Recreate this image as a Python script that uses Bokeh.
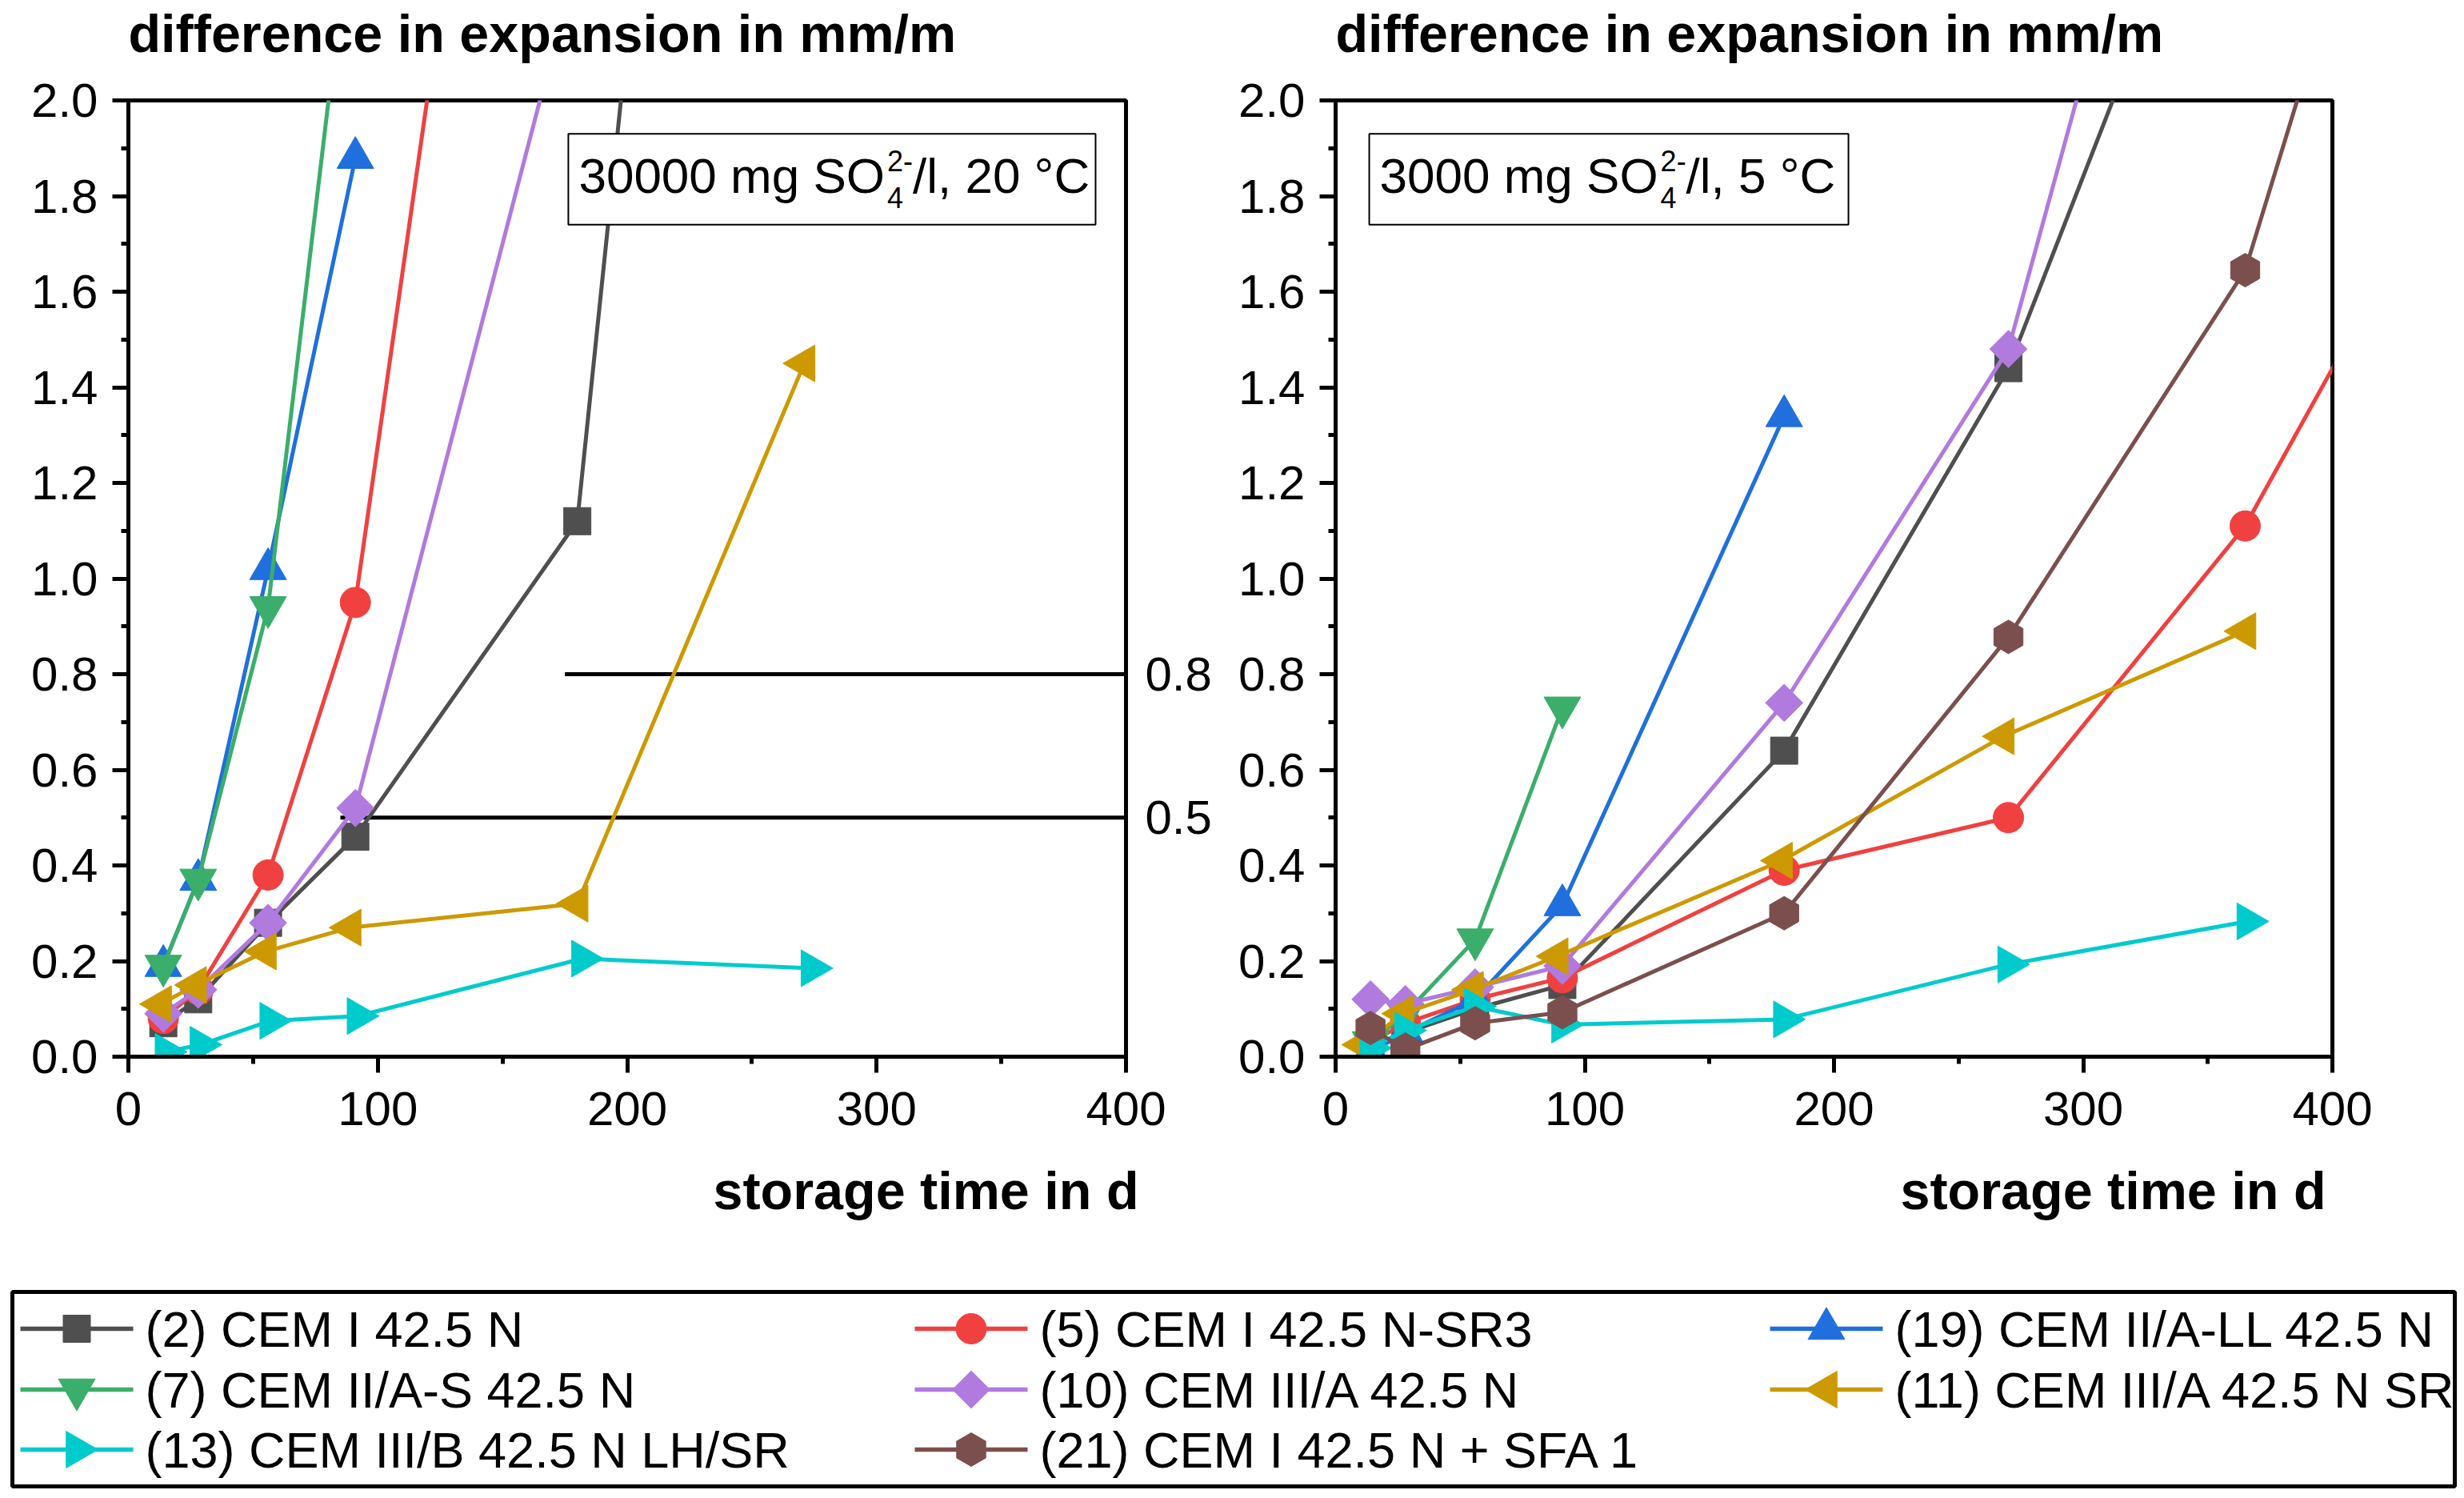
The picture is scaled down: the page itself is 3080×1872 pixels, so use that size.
import numpy as np
from bokeh.plotting import figure
from bokeh.models import (Range1d, SingleIntervalTicker, PrintfTickFormatter, LinearAxis,
                          FixedTicker, BoxAnnotation, Label, ColumnDataSource)
from bokeh.layouts import column, row
from bokeh.embed import file_html
from bokeh.resources import INLINE
from bokeh.core.properties import value

FONT = "Liberation Sans"

# ---------------- series meta ----------------
labels = ["(2) CEM I 42.5 N", "(5) CEM I 42.5 N-SR3", "(19) CEM II/A-LL 42.5 N",
          "(7) CEM II/A-S 42.5 N", "(10) CEM III/A 42.5 N", "(11) CEM III/A 42.5 N SR",
          "(13) CEM III/B 42.5 N LH/SR", "(21) CEM I 42.5 N + SFA 1"]
colors = ["#4f4f4f", "#f04040", "#1f6fde", "#3aae6a", "#b07ade", "#cc9a00", "#00cbcc", "#7b4f4d"]
markers = ["square", "circle", "triangle", "inverted_triangle", "square", "triangle", "triangle", "hex"]
angles = [0, 0, 0, 0, np.pi / 4, np.pi / 2, -np.pi / 2, np.pi / 2]
sizes = [34, 38, 46, 46, 33, 46, 46, 42]

# ---------------- left panel: 30000 mg SO4/l, 20 °C ----------------
L2_days = [14, 28, 56, 91, 180, 270]
L2_exp = [0.07, 0.12, 0.28, 0.46, 1.12, 5.65]
L5_days = [14, 28, 56, 91, 180]
L5_exp = [0.08, 0.14, 0.38, 0.95, 4.2]
L19_days = [14, 28, 56, 91]
L19_exp = [0.19, 0.37, 1.02, 1.88]
L7_days = [14, 28, 56, 91]
L7_exp = [0.19, 0.37, 0.94, 2.47]
L10_days = [14, 28, 56, 91, 180]
L10_exp = [0.09, 0.14, 0.28, 0.52, 2.30]
L11_days = [13, 27, 55, 89, 180, 271]
L11_exp = [0.11, 0.15, 0.22, 0.27, 0.32, 1.45]
L13_days = [15, 29, 57, 92, 182, 274]
L13_exp = [0.01, 0.025, 0.075, 0.085, 0.205, 0.185]
L21_days = []
L21_exp = []

# ---------------- right panel: 3000 mg SO4/l, 5 °C ----------------
R2_days = [14, 28, 56, 91, 180, 270, 365]
R2_exp = [0.02, 0.05, 0.10, 0.15, 0.64, 1.44, 2.71]
R5_days = [14, 28, 56, 91, 180, 270, 365, 450]
R5_exp = [0.03, 0.07, 0.12, 0.165, 0.39, 0.50, 1.11, 1.91]
R19_days = [14, 28, 56, 91, 180]
R19_exp = [0.01, 0.05, 0.12, 0.317, 1.34]
R7_days = [14, 28, 56, 91]
R7_exp = [0.03, 0.09, 0.245, 0.73]
R10_days = [14, 28, 56, 91, 180, 270, 365]
R10_exp = [0.12, 0.11, 0.145, 0.19, 0.74, 1.48, 3.29]
R11_days = [11, 27, 55, 89, 179, 268, 365]
R11_exp = [0.025, 0.09, 0.14, 0.21, 0.41, 0.67, 0.89]
R13_days = [14, 28, 56, 91, 180, 270, 366]
R13_exp = [0.018, 0.055, 0.105, 0.067, 0.078, 0.193, 0.283]
R21_days = [14, 28, 56, 91, 180, 270, 365, 450]
R21_exp = [0.06, 0.015, 0.07, 0.093, 0.30, 0.878, 1.645, 3.09]

left_series = [(L2_days, L2_exp), (L5_days, L5_exp), (L19_days, L19_exp), (L7_days, L7_exp),
               (L10_days, L10_exp), (L11_days, L11_exp), (L13_days, L13_exp), (L21_days, L21_exp)]
right_series = [(R2_days, R2_exp), (R5_days, R5_exp), (R19_days, R19_exp), (R7_days, R7_exp),
                (R10_days, R10_exp), (R11_days, R11_exp), (R13_days, R13_exp), (R21_days, R21_exp)]

# reference levels (left panel)
ref_levels = [0.8, 0.5]
ref_start = [175, 85]

x_min, x_max = 0, 400
y_min, y_max = 0, 2.0

title_text = "difference in expansion in mm/m"
xlabel_text = "storage time in d"

ANN_SIZE = 62
SUP_SIZE = 36
PAGE_W = 3080
BL, BR = 15, 12          # common left/right borders of full-width rows


def text_w(s, size):
    w = {'0': .556, '1': .556, '2': .556, '3': .556, '4': .556, '5': .556, '6': .556, '7': .556,
         '8': .556, '9': .556, ' ': .278, 'm': .833, 'g': .556, 'S': .667, 'O': .778, '-': .333,
         '/': .278, 'l': .222, ',': .278, '°': .4, 'C': .722}
    return sum(w.get(c, .556) for c in s) * size


def blank_fig(h):
    f = figure(width=PAGE_W, height=h, output_backend="svg", toolbar_location=None,
               x_range=Range1d(BL, PAGE_W - BR), y_range=Range1d(0, h), x_axis_type=None,
               y_axis_type=None, min_border_left=BL, min_border_right=BR,
               min_border_top=0, min_border_bottom=0)
    f.grid.visible = False
    f.outline_line_color = None
    f.background_fill_color = "white"
    f.border_fill_color = "white"
    return f


def make_panel(series, width, height, mbl, mbr, box, main_txt, rest_txt, with_refs):
    p = figure(width=width, height=height, output_backend="svg", toolbar_location=None,
               x_range=Range1d(x_min, x_max), y_range=Range1d(y_min, y_max),
               min_border_left=mbl, min_border_right=mbr, min_border_top=43,
               min_border_bottom=100)
    p.background_fill_color = "white"
    p.border_fill_color = "white"
    p.outline_line_color = "black"
    p.outline_line_width = 5
    p.grid.visible = False

    for ax in (p.xaxis[0], p.yaxis[0]):
        ax.axis_line_width = 5
        ax.axis_line_color = "black"
        ax.major_tick_line_width = 5
        ax.minor_tick_line_width = 5
        ax.major_tick_in = 0
        ax.minor_tick_in = 0
        ax.major_tick_out = 20
        ax.minor_tick_out = 9
        ax.major_label_text_font = FONT
        ax.major_label_text_font_size = "60px"
        ax.major_label_text_color = "black"
    p.xaxis[0].ticker = SingleIntervalTicker(interval=100, num_minor_ticks=2)
    p.yaxis[0].ticker = SingleIntervalTicker(interval=0.2, num_minor_ticks=2)
    p.yaxis[0].formatter = PrintfTickFormatter(format="%.1f")
    p.xaxis[0].major_label_standoff = 24
    p.yaxis[0].major_label_standoff = 18

    if with_refs:
        p.segment(x0=ref_start, y0=ref_levels, x1=[x_max] * len(ref_levels), y1=ref_levels,
                  line_color="black", line_width=5)
        rax = LinearAxis(ticker=FixedTicker(ticks=ref_levels),
                         formatter=PrintfTickFormatter(format="%.1f"))
        rax.axis_line_color = None
        rax.major_tick_line_color = None
        rax.minor_tick_line_color = None
        rax.major_tick_out = 0
        rax.major_tick_in = 0
        rax.major_label_standoff = 24
        rax.major_label_text_font = FONT
        rax.major_label_text_font_size = "60px"
        rax.major_label_text_color = "black"
        p.add_layout(rax, "right")

    for i, (d, e) in enumerate(series):
        if len(d) == 0:
            continue
        src = ColumnDataSource(dict(x=d, y=e))
        p.line("x", "y", source=src, line_color=colors[i], line_width=5, line_join="round")
        p.scatter("x", "y", source=src, marker=markers[i], size=sizes[i], angle=angles[i],
                  fill_color=colors[i], line_color=colors[i], line_width=1)

    bl, br, bb, bt, ty = box
    p.add_layout(BoxAnnotation(left=bl, right=br, bottom=bb, top=bt, fill_color="white",
                               fill_alpha=1, line_color="black", line_width=2, line_alpha=1))
    off = 13
    w_main = text_w(main_txt, ANN_SIZE)
    common = dict(x=bl, y=ty, text_font=FONT, text_color="black", text_baseline="middle")
    p.add_layout(Label(text=main_txt, x_offset=off, text_font_size=f"{ANN_SIZE}px", **common))
    p.add_layout(Label(text="2-", x_offset=off + w_main + 3, y_offset=19,
                       text_font_size=f"{SUP_SIZE}px", **common))
    p.add_layout(Label(text="4", x_offset=off + w_main + 3, y_offset=-27,
                       text_font_size=f"{SUP_SIZE}px", **common))
    p.add_layout(Label(text=rest_txt, x_offset=off + w_main + 3 + text_w("2-", SUP_SIZE),
                       text_font_size=f"{ANN_SIZE}px", **common))
    return p


# ---------------- heading row ----------------
TH = 82
tf = blank_fig(TH)
tf.text(x=[160, 1669], y=[TH - 41, TH - 41], text=[title_text, title_text],
        text_font=value(FONT), text_font_style="bold", text_font_size="66.5px",
        text_color="black", text_baseline="middle", text_align="left")

# ---------------- panels ----------------
p1 = make_panel(left_series, 1540, 1338, 160, 133, (176.4, 387.8, 1.74, 1.93, 1.842),
                "30000 mg SO", "/l, 20 °C", True)
p2 = make_panel(right_series, 1540, 1338, 129, 165, (13.5, 205.8, 1.74, 1.93, 1.842),
                "3000 mg SO", "/l, 5 °C", False)

# ---------------- x-axis labels row ----------------
XH = 140
xf = blank_fig(XH)
xf.text(x=[1423, 2907], y=[XH - 67, XH - 67], text=[xlabel_text, xlabel_text],
        text_font=value(FONT), text_font_style="bold", text_font_size="66.5px",
        text_color="black", text_baseline="middle", text_align="right")

# ---------------- legend panel ----------------
LW, LH = PAGE_W - BL - BR, 243
pl = figure(width=PAGE_W, height=312, output_backend="svg", toolbar_location=None,
            x_range=Range1d(0, LW), y_range=Range1d(0, LH), x_axis_type=None, y_axis_type=None,
            min_border_left=BL, min_border_right=BR, min_border_top=54, min_border_bottom=15)
pl.grid.visible = False
pl.outline_line_color = "black"
pl.outline_line_width = 5
pl.background_fill_color = "white"
pl.border_fill_color = "white"

col_x = [10, 1128, 2197]
row_y = [LH - 46, LH - 122, LH - 197]
glyph_w = 141
for i, lab in enumerate(labels):
    cx = col_x[i % 3]
    cy = row_y[i // 3]
    pl.line([cx, cx + glyph_w], [cy, cy], line_color=colors[i], line_width=5.5)
    pl.scatter([cx + glyph_w / 2], [cy], marker=markers[i], size=sizes[i], angle=angles[i],
               fill_color=colors[i], line_color=colors[i], line_width=1)
    pl.text([cx + glyph_w + 15], [cy], text=[lab], text_font=value(FONT), text_font_size="63px",
            text_baseline="middle", text_color="black")

layout = column(tf, row(p1, p2), xf, pl)
open("out.html", "w").write(file_html(layout, INLINE))
